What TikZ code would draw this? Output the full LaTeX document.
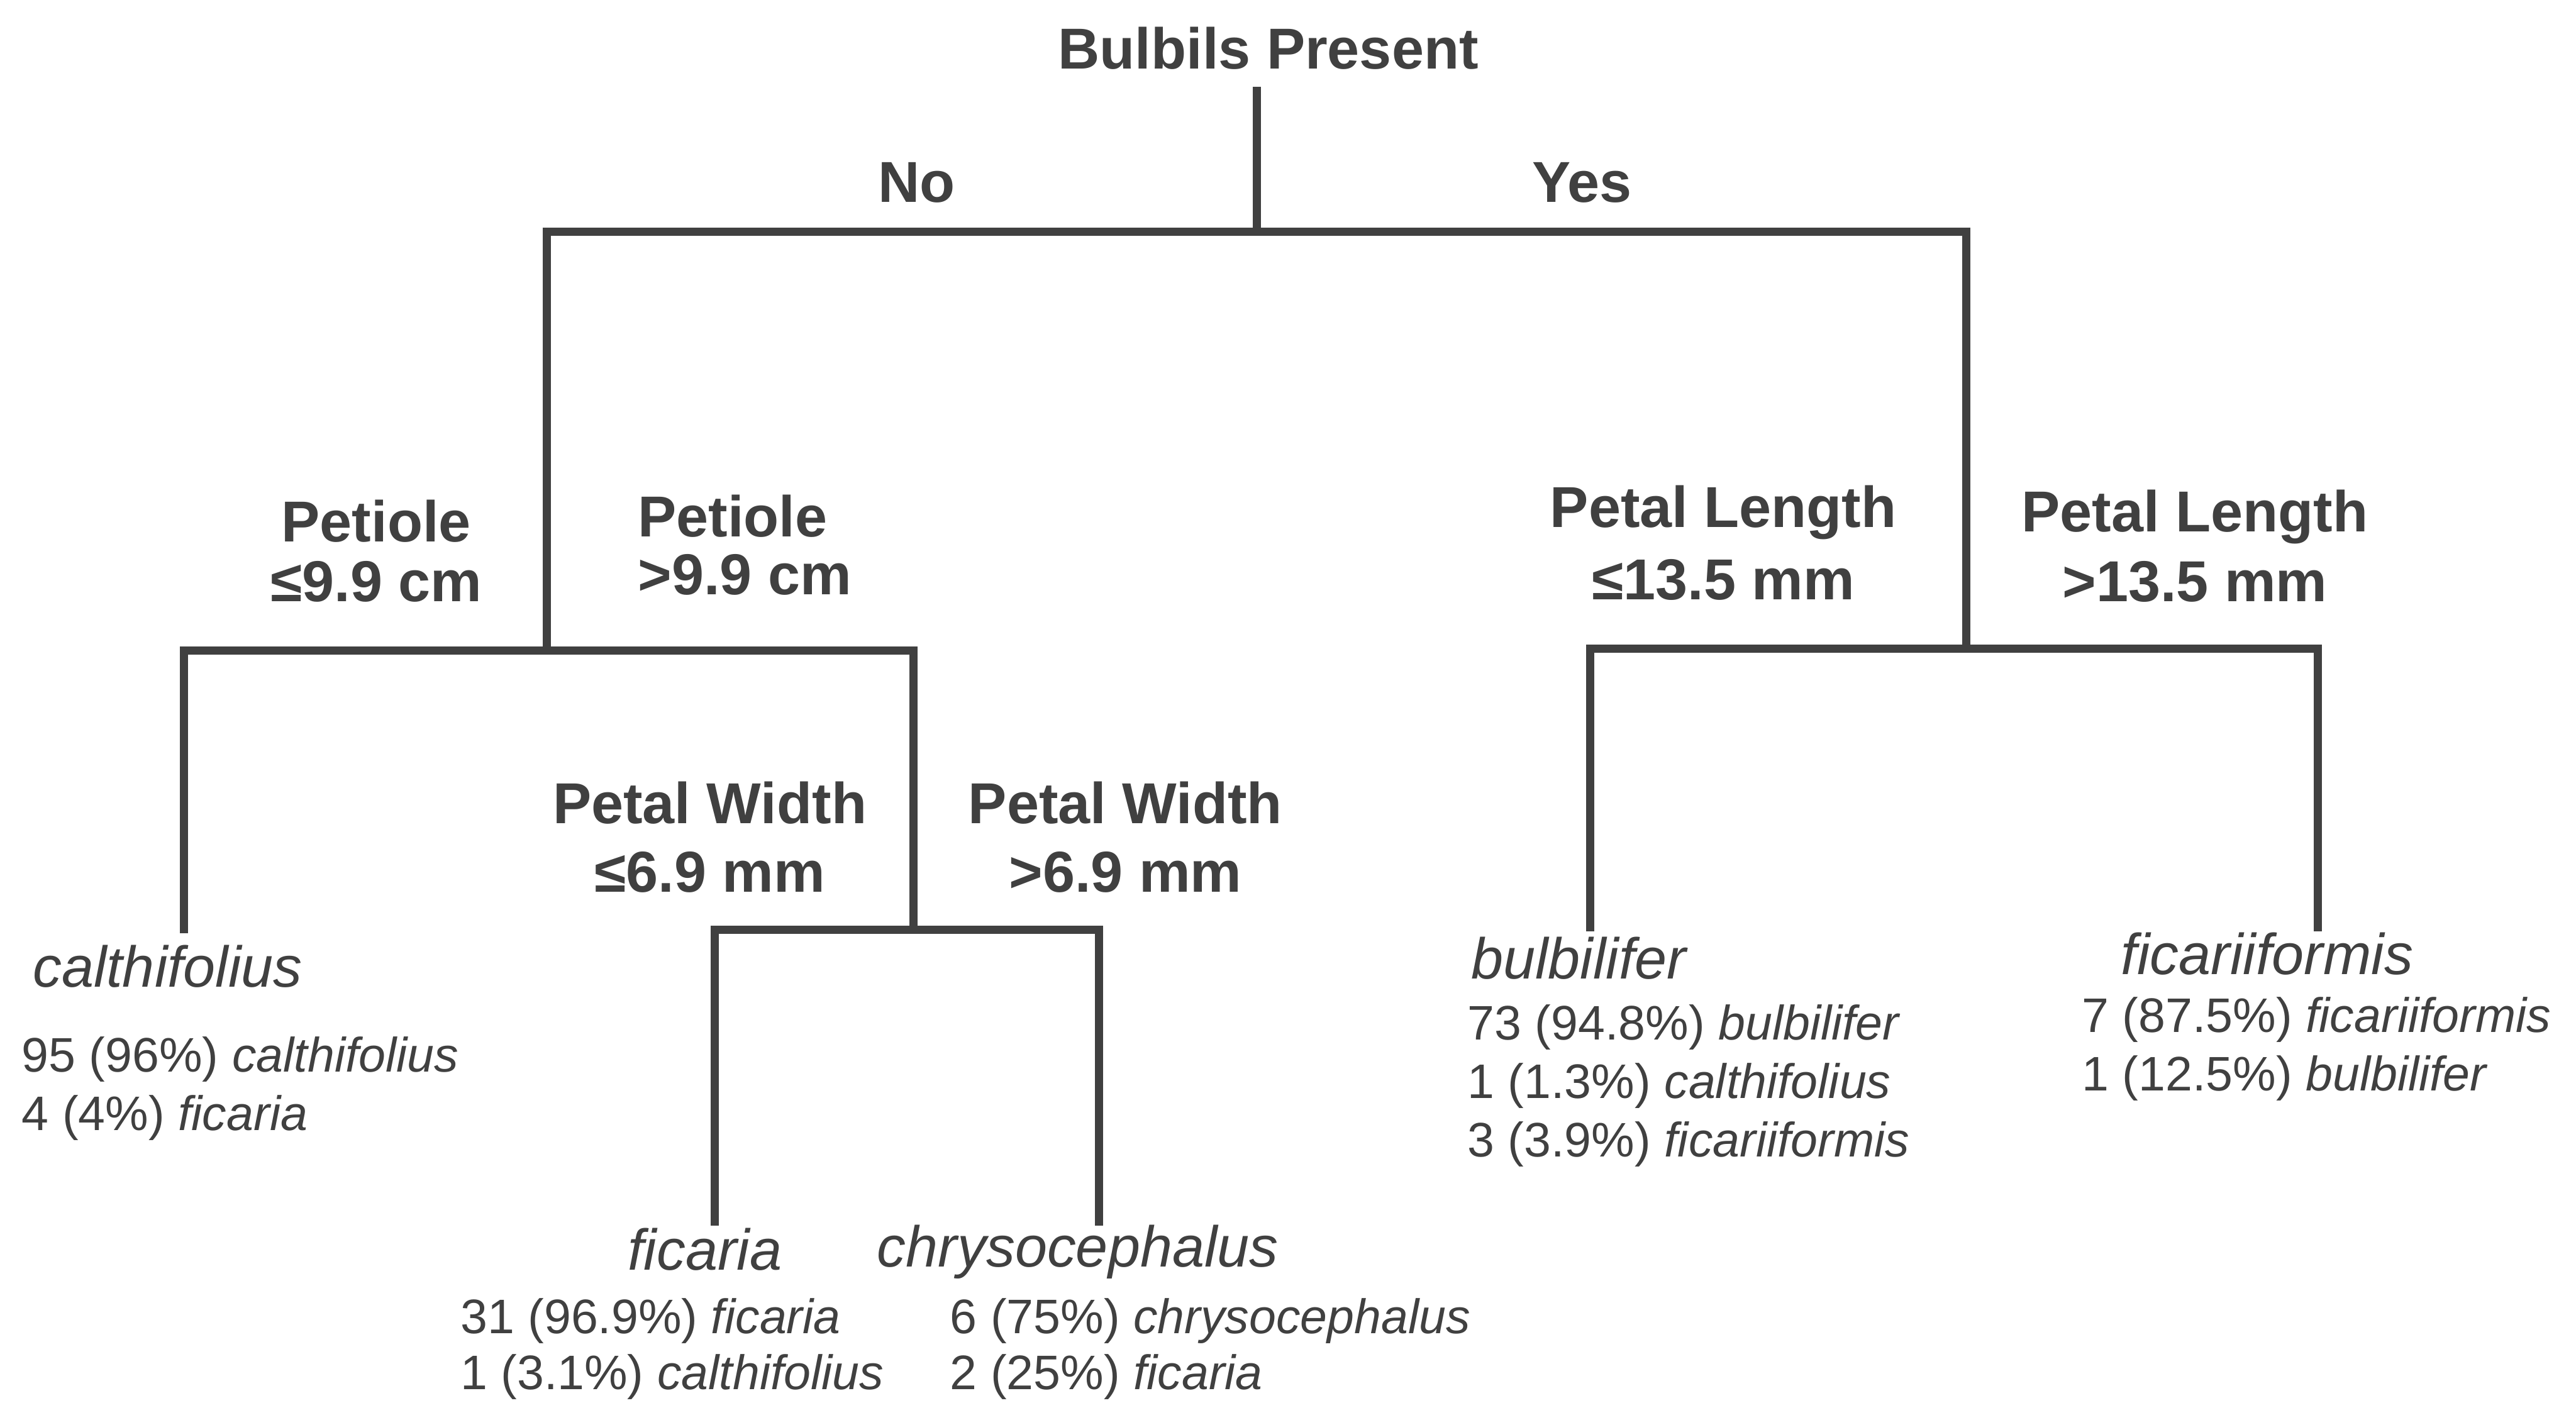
\documentclass[tikz,border=0pt]{standalone}
\usepackage{fontspec}
\setmainfont{Liberation Sans}[Ligatures=NoCommon]
\definecolor{tGray}{HTML}{404040}

\begin{document}
\begin{tikzpicture}[x=0.02cm, y=-0.02cm,
    every node/.style={inner sep=0pt, text=tGray},
    branch/.style={draw=tGray, line width=0.1cm},
    split/.style={anchor=base, align=center, font=\fontsize{20}{23}\selectfont\bfseries},
    leaf/.style={anchor=base, font=\fontsize{20}{23}\selectfont\itshape},
    tally/.style={anchor=base west, align=left, font=\fontsize{16.8}{20.2}\selectfont}]
    \useasboundingbox (0,0) rectangle (1568,854);

    \coordinate (top) at (765,53);
    \coordinate (j0) at (765,141);
    \coordinate (noA) at (333,141);
    \coordinate (yesA) at (1197,141);
    \coordinate (noB) at (333,396);
    \coordinate (yesB) at (1197,395);
    \coordinate (petA) at (112,396);
    \coordinate (petB) at (556,396);
    \coordinate (pwJ) at (556,566);
    \coordinate (pwA) at (435,566);
    \coordinate (pwB) at (669,566);
    \coordinate (plA) at (968,395);
    \coordinate (plB) at (1411,395);
    \coordinate (calEnd) at (112,568);
    \coordinate (ficEnd) at (435,746);
    \coordinate (chrEnd) at (669,746);
    \coordinate (bulEnd) at (968,567);
    \coordinate (ffEnd) at (1411,567);

    \draw[branch] (top) -- (j0);
    \draw[branch] (noB) -- (noA) -- (yesA) -- (yesB);
    \draw[branch] (calEnd) -- (petA) -- (petB) -- (pwJ);
    \draw[branch] (ficEnd) -- (pwA) -- (pwB) -- (chrEnd);
    \draw[branch] (bulEnd) -- (plA) -- (plB) -- (ffEnd);

    \node[split] (root) at (772,42) {Bulbils Present};
    \node[split] (no) at (558,123) {No};
    \node[split] (yes) at (963,123) {Yes};
    \node[split] (petLo) at (229,366) {Petiole\\[-2.3pt]≤9.9 cm};
    \node[split, align=left, anchor=base west] (petHi) at (388,362) {Petiole\\[-3pt]>9.9 cm};
    \node[split] (pwLo) at (432,543) {Petal Width\\[0.8pt]≤6.9 mm};
    \node[split] (pwHi) at (685,543) {Petal Width\\[0.8pt]>6.9 mm};
    \node[split] (plLo) at (1049,365) {Petal Length\\[2pt]≤13.5 mm};
    \node[split] (plHi) at (1336,366) {Petal Length\\[1.2pt]>13.5 mm};

    \node[leaf] (cal) at (102,601) {calthifolius};
    \node[leaf] (fic) at (429,773) {ficaria};
    \node[leaf] (chr) at (656,771) {chrysocephalus};
    \node[leaf] (bul) at (961,596) {bulbilifer};
    \node[leaf] (ff) at (1380,593) {ficariiformis};

    \node[tally] (calN) at (13,688) {95 (96\%) \textit{calthifolius}\\4 (4\%) \textit{ficaria}};
    \node[tally] (ficN) at (280,846) {31 (96.9\%) \textit{ficaria}\\[-0.8pt]1 (3.1\%) \textit{calthifolius}};
    \node[tally] (chrN) at (578,846) {6 (75\%) \textit{chrysocephalus}\\[-0.8pt]2 (25\%) \textit{ficaria}};
    \node[tally] (bulN) at (893,704) {73 (94.8\%) \textit{bulbilifer}\\1 (1.3\%) \textit{calthifolius}\\3 (3.9\%) \textit{ficariiformis}};
    \node[tally] (ffN) at (1267,664) {7 (87.5\%) \textit{ficariiformis}\\1 (12.5\%) \textit{bulbilifer}};
\end{tikzpicture}
\end{document}
